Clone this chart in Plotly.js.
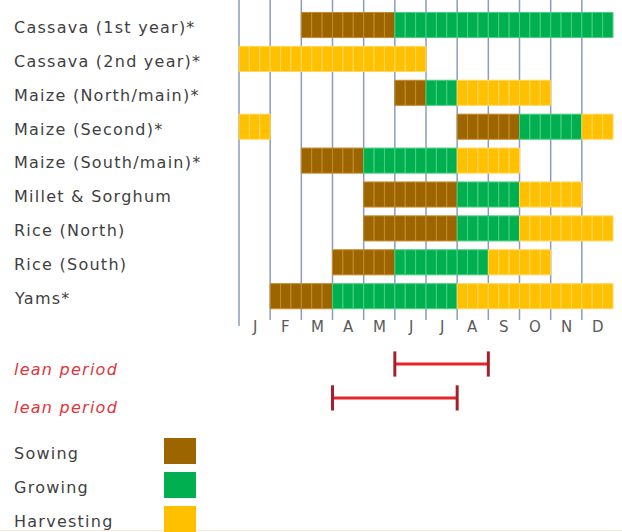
<!DOCTYPE html>
<html>
<head>
<meta charset="utf-8">
<script src="https://cdn.plot.ly/plotly-3.0.1.min.js"></script>
<style>
  html, body { margin: 0; padding: 0; background: #ffffff; }
  #chart { width: 622px; height: 532px; }
  .annotation-text { letter-spacing: 1.25px; }
</style>
</head>
<body>
<div id="chart"></div>
<script>
// ---- data ----
const crops = ['Cassava (1st year)*', 'Cassava (2nd year)*', 'Maize (North/main)*', 'Maize (Second)*',
  'Maize (South/main)*', 'Millet & Sorghum', 'Rice (North)', 'Rice (South)', 'Yams*'];
const months = ['J', 'F', 'M', 'A', 'M', 'J', 'J', 'A', 'S', 'O', 'N', 'D'];
// segments per crop: [start month index, end month index (exclusive)]
const sowing = [[[2, 5]], [], [[5, 6]], [[7, 9]], [[2, 4]], [[4, 7]], [[4, 7]], [[3, 5]], [[1, 3]]];
const growing = [[[5, 12]], [], [[6, 7]], [[9, 11]], [[4, 7]], [[7, 9]], [[7, 9]], [[5, 8]], [[3, 7]]];
const harvesting = [[], [[0, 6]], [[7, 10]], [[0, 1], [11, 12]], [[7, 9]], [[9, 11]], [[9, 12]], [[8, 10]], [[7, 12]]];
const leanLabels = ['lean period', 'lean period'];
const leanPeriods = [[5, 8], [3, 7]];
const phaseNames = ['Sowing', 'Growing', 'Harvesting'];
const dekadsPerMonth = 3;

// ---- styles ----
const phaseColors = ['#9c6500', '#00b050', '#ffc000'];
const phaseLineColors = ['#c58a2c', '#4bcf80', '#ffd75e'];
const W = 374 / 12;            // px per month
const rowPx0 = 25, rowStep = 33.9;
const xRange = [-239 / W, 12 + 9 / W];
const yRange = [(532 - rowPx0) / rowStep, (0 - rowPx0) / rowStep];
const pxToRow = p => (p - rowPx0) / rowStep;

function phaseTrace(segs, k) {
  const y = [], base = [], x = [];
  segs.forEach((list, row) => {
    list.forEach(([s, e]) => {
      for (let d = s * dekadsPerMonth; d < e * dekadsPerMonth; d++) {
        y.push(row); base.push(d / dekadsPerMonth); x.push(1 / dekadsPerMonth);
      }
    });
  });
  return {
    type: 'bar', orientation: 'h', y, x, base, width: 0.74,
    marker: { color: phaseColors[k], line: { color: phaseLineColors[k], width: 1 } },
    hoverinfo: 'skip', showlegend: false, name: phaseNames[k]
  };
}

const traces = [phaseTrace(sowing, 0), phaseTrace(growing, 1), phaseTrace(harvesting, 2)];
leanPeriods.forEach((p, i) => {
  traces.push({
    type: 'scatter', mode: 'lines', x: p, y: [10 + i, 10 + i],
    line: { color: '#e2242b', width: 3 }, hoverinfo: 'skip', showlegend: false
  });
  traces.push({
    type: 'scatter', mode: 'markers', x: p, y: [10 + i, 10 + i],
    marker: { symbol: 'line-ns-open', size: 18, color: '#a61f2c', line: { width: 3, color: '#a61f2c' } },
    hoverinfo: 'skip', showlegend: false
  });
});

const shapes = [];
months.forEach((m, i) => {
  shapes.push({
    type: 'line', layer: 'below', xref: 'x', yref: 'y', x0: i, x1: i,
    y0: pxToRow(0), y1: pxToRow(i === 0 ? 326 : 320),
    line: { color: '#8d9cbc', width: 1.5 }
  });
});
phaseNames.forEach((n, k) => {
  shapes.push({
    type: 'rect', layer: 'above', xref: 'paper', yref: 'paper',
    x0: 164 / 622, x1: 196 / 622, y0: 1 - (438 + 34 * k + 26) / 532, y1: 1 - (438 + 34 * k) / 532,
    fillcolor: phaseColors[k], line: { width: 0 }
  });
});
shapes.push({
  type: 'line', xref: 'paper', yref: 'paper', x0: 0, x1: 1, y0: 1 - 530.5 / 532, y1: 1 - 530.5 / 532,
  line: { color: '#fde6d4', width: 1.2 }, layer: 'below'
});

const labelFont = { family: 'DejaVu Sans', size: 16, color: '#3f3f3f' };
const annotations = [];
crops.forEach((c, i) => annotations.push({
  text: c, xref: 'paper', yref: 'y', x: 12 / 622, y: i + 0.07, xanchor: 'left', yanchor: 'middle',
  showarrow: false, font: labelFont
}));
months.forEach((m, i) => annotations.push({
  text: m, xref: 'x', yref: 'y', x: i + 0.52, y: pxToRow(327), xanchor: 'center', yanchor: 'middle',
  showarrow: false, font: { family: 'DejaVu Sans', size: 15, color: '#5a5a5a' }
}));
leanLabels.forEach((t, i) => annotations.push({
  text: t, xref: 'paper', yref: 'y', x: 12 / 622, y: pxToRow(369 + 38 * i), xanchor: 'left', yanchor: 'middle',
  showarrow: false, font: { family: 'DejaVu Sans', size: 16, color: '#e0353b', style: 'italic' }
}));
phaseNames.forEach((n, k) => annotations.push({
  text: n, xref: 'paper', yref: 'y', x: 12 / 622, y: pxToRow(453 + 34 * k), xanchor: 'left', yanchor: 'middle',
  showarrow: false, font: labelFont
}));

const layout = {
  width: 622, height: 532,
  margin: { l: 0, r: 0, t: 0, b: 0, pad: 0 },
  paper_bgcolor: '#ffffff', plot_bgcolor: '#ffffff',
  barmode: 'overlay', showlegend: false,
  xaxis: { range: xRange, visible: false, fixedrange: true },
  yaxis: { range: yRange, visible: false, fixedrange: true },
  shapes, annotations
};

Plotly.newPlot('chart', traces, layout, { staticPlot: true, displayModeBar: false });
</script>
</body>
</html>
